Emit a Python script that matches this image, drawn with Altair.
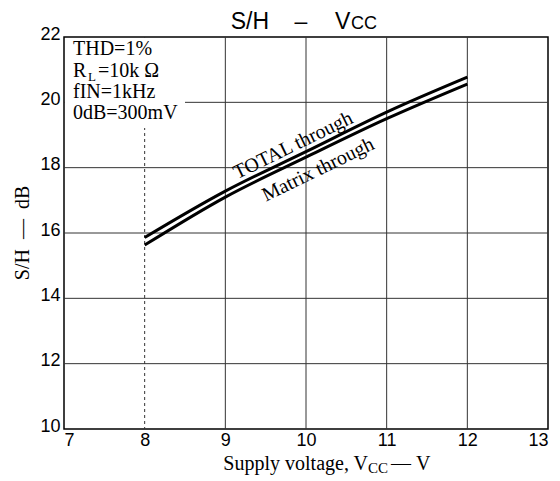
import altair as alt
import pandas as pd

# ---- data ----
vcc = [8, 9, 10, 11, 12]
total_through = [15.86, 17.28, 18.49, 19.70, 20.77]
matrix_through = [15.63, 17.10, 18.32, 19.50, 20.56]

x_ticks = [7, 8, 9, 10, 11, 12, 13]
y_ticks = [10, 12, 14, 16, 18, 20, 22]
x_grid = [8, 9, 10, 11, 12]
x_grid_dash = ["dash", "solid", "solid", "solid", "solid"]
y_grid = [12, 14, 16, 18, 20]

cond_lines = ["THD=1%", "fIN=1kHz", "0dB=300mV"]

W, H = 484, 392
SERIF = "Liberation Serif"
SANS = "Liberation Sans"
NB = "\u00a0"

curves = pd.DataFrame({
    "Vcc": vcc * 2,
    "SH": total_through + matrix_through,
    "series": ["TOTAL through"] * len(vcc) + ["Matrix through"] * len(vcc),
})

xs = alt.Scale(domain=[7, 13], nice=False, zero=False)
ys = alt.Scale(domain=[10, 22], nice=False, zero=False)

xgrid = alt.Chart(pd.DataFrame({"v": x_grid, "d": x_grid_dash})).mark_rule(
    color="#333", strokeWidth=1
).encode(
    x=alt.X("v:Q", scale=xs, axis=alt.Axis(values=x_ticks, format="d", title=None, grid=False,
                                           ticks=False, domain=False, labelFont=SANS,
                                           labelFontSize=18, labelColor="black", labelPadding=2)),
    strokeDash=alt.StrokeDash("d:N", scale=alt.Scale(domain=["dash", "solid"], range=[[3, 3], [1, 0]]),
                              legend=None),
)

ygrid = alt.Chart(pd.DataFrame({"v": y_grid})).mark_rule(color="#333", strokeWidth=1).encode(
    y=alt.Y("v:Q", scale=ys, axis=alt.Axis(values=y_ticks, format="d", title=None, grid=False,
                                           ticks=False, domain=False, labelFont=SANS,
                                           labelFontSize=18, labelColor="black", labelPadding=4,
                                           labelOffset=-3)),
)

box = alt.Chart(pd.DataFrame({"a": [0]})).mark_rect(fill="white").encode(
    x=alt.value(1), x2=alt.value(121), y=alt.value(1), y2=alt.value(91)
)

lines = alt.Chart(curves).mark_line(color="black", strokeWidth=3, interpolate="monotone").encode(
    x=alt.X("Vcc:Q", scale=xs),
    y=alt.Y("SH:Q", scale=ys),
    detail="series:N",
)

lbl_total = alt.Chart(pd.DataFrame({"x": [9.84], "y": [18.68], "t": ["TOTAL through"]})).mark_text(
    font=SERIF, fontSize=20, angle=334, align="center", baseline="middle", color="black"
).encode(x=alt.X("x:Q", scale=xs), y=alt.Y("y:Q", scale=ys), text="t:N")

lbl_matrix = alt.Chart(pd.DataFrame({"x": [10.15], "y": [17.94], "t": ["Matrix through"]})).mark_text(
    font=SERIF, fontSize=20, angle=334, align="center", baseline="middle", color="black"
).encode(x=alt.X("x:Q", scale=xs), y=alt.Y("y:Q", scale=ys), text="t:N")


def ptext(text, x, y, size, font=SERIF, align="left", baseline="alphabetic", angle=0):
    kw = dict(font=font, fontSize=size, align=align, baseline=baseline, color="black")
    if angle:
        kw["angle"] = angle
    return alt.Chart(pd.DataFrame({"t": [text]})).mark_text(**kw).encode(
        x=alt.value(x), y=alt.value(y), text="t:N"
    )


ox, oy = 64, 37  # plot origin on page
deco = [
    # condition box
    ptext(cond_lines[0], 73 - ox, 55 - oy, 20),
    ptext("R", 73 - ox, 77 - oy, 20),
    ptext("L", 88 - ox, 81 - oy, 13),
    ptext("=10k" + NB + "\u03a9", 98 - ox, 77 - oy, 20),
    ptext(cond_lines[1], 73 - ox, 98 - oy, 20),
    ptext(cond_lines[2], 73 - ox, 119 - oy, 20),
    # title
    ptext("S/H", 269 - ox, 29 - oy, 23, font=SANS, align="right"),
    ptext("\u2013", 301 - ox, 29 - oy, 23, font=SANS, align="center"),
    ptext("V", 335 - ox, 29 - oy, 23, font=SANS),
    ptext("CC", 351 - ox, 29 - oy, 18, font=SANS),
    # x title
    ptext("Supply voltage, V", 368 - ox, 470 - oy, 20, align="right"),
    ptext("CC", 368 - ox, 473 - oy, 15),
    ptext("\u2014" + NB + "V", 391 - ox, 470 - oy, 20),
    # y title
    ptext("S/H" + NB + NB + "\u2014" + NB + NB + "dB", 29 - ox, 233 - oy, 20, align="center", angle=270),
]

chart = alt.layer(xgrid, ygrid, box, lines, lbl_total, lbl_matrix, *deco).properties(
    width=W, height=H,
    autosize=alt.AutoSizeParams(type="none"),
    padding={"left": ox - 8, "top": oy - 8, "right": 4, "bottom": 52},
    background="white",
).configure_view(stroke="black", strokeWidth=1.5)

chart.save("out.html", embed_options={"renderer": "svg", "actions": False})
